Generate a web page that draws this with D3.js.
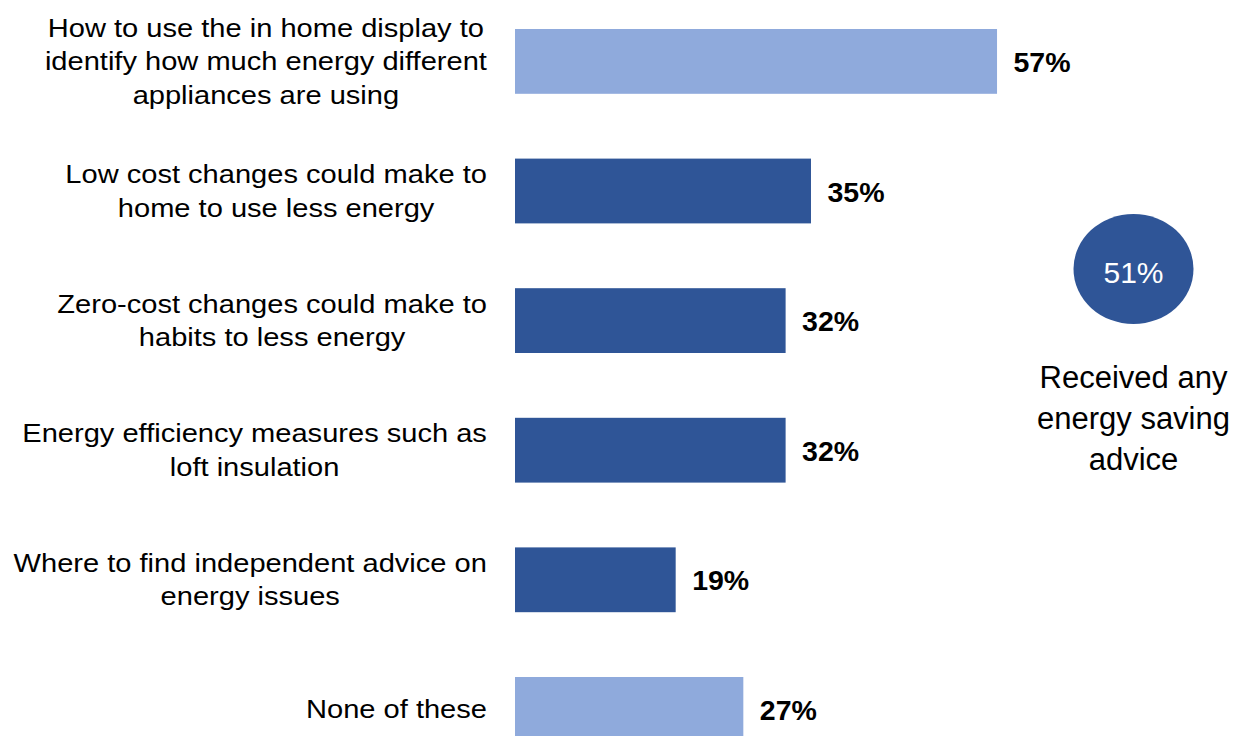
<!DOCTYPE html>
<html>
<head>
<meta charset="utf-8">
<script src="https://cdn.jsdelivr.net/npm/d3@7"></script>
<style>
  html, body { margin: 0; padding: 0; background: #ffffff; }
  svg { display: block; font-family: "Liberation Sans", Arial, sans-serif; }
</style>
</head>
<body>
<svg id="chart" width="1235" height="736"></svg>
<script>
// Topics of energy saving advice received (% of respondents)
const categories = [
  ["How to use the in home display to", "identify how much energy different", "appliances are using"],
  ["Low cost changes could make to", "home to use less energy"],
  ["Zero-cost changes could make to", "habits to less energy"],
  ["Energy efficiency measures such as", "loft insulation"],
  ["Where to find independent advice on", "energy issues"],
  ["None of these"]
];
const values = [57, 35, 32, 32, 19, 27];
const barGroup = ["display", "topic", "topic", "topic", "topic", "none"];
const summaryValue = 51;
const summaryLabel = ["Received any", "energy saving", "advice"];

const svg = d3.select("#chart");
const ids = categories.map((c, i) => i);

const x = d3.scaleLinear().domain([0, 60]).range([515, 1022.4]);
const y = d3.scaleBand().domain(ids).range([-3.4, 774.2])
  .paddingInner(0.5).paddingOuter(0.25);

const color = d3.scaleOrdinal()
  .domain(["display", "topic", "none"])
  .range(["#8faadc", "#2f5597", "#8faadc"]);

// Bars
svg.append("g").selectAll("rect")
  .data(ids)
  .join("rect")
  .attr("x", x(0))
  .attr("y", i => y(i))
  .attr("width", i => x(values[i]) - x(0))
  .attr("height", y.bandwidth())
  .attr("fill", i => color(barGroup[i]));

// Value labels
svg.append("g").selectAll("text")
  .data(ids)
  .join("text")
  .attr("x", i => x(values[i]) + 16.5)
  .attr("y", i => y(i) + y.bandwidth() / 2 + 10.5)
  .attr("font-size", 28.5)
  .attr("font-weight", "bold")
  .attr("fill", "#000")
  .text(i => values[i] + "%");

// Category labels: lines centred on each other, block right-aligned to the bars
const labelSize = 25.5, labelStretch = 1.14, lineGap = 33.5, capHalf = 8.8, labelRight = 487;
const measure = svg.append("text").attr("font-size", labelSize).attr("visibility", "hidden");
const lineWidth = s => { measure.text(s); return measure.node().getComputedTextLength() * labelStretch; };

const labels = svg.append("g");
ids.forEach(i => {
  const lines = categories[i];
  const widest = d3.max(lines, lineWidth);
  const cx = labelRight - widest / 2;
  const cy = y(i) + y.bandwidth() / 2;
  lines.forEach((line, k) => {
    const by = cy + (k - (lines.length - 1) / 2) * lineGap + capHalf;
    labels.append("text")
      .attr("transform", `translate(${cx},${by}) scale(${labelStretch},1)`)
      .attr("text-anchor", "middle")
      .attr("font-size", labelSize)
      .attr("fill", "#000")
      .text(line);
  });
});
measure.remove();

// Overall summary bubble
const cxS = 1133.5, cyS = 269;
svg.append("ellipse")
  .attr("cx", cxS).attr("cy", cyS)
  .attr("rx", 60).attr("ry", 55)
  .attr("fill", "#2f5597");
svg.append("text")
  .attr("x", cxS).attr("y", cyS + 14)
  .attr("text-anchor", "middle")
  .attr("font-size", 30)
  .attr("fill", "#ffffff")
  .text(summaryValue + "%");

svg.append("g").selectAll("text")
  .data(summaryLabel)
  .join("text")
  .attr("x", cxS)
  .attr("y", (d, k) => 388 + k * 41)
  .attr("text-anchor", "middle")
  .attr("font-size", 31)
  .attr("fill", "#000")
  .text(d => d);
</script>
</body>
</html>
